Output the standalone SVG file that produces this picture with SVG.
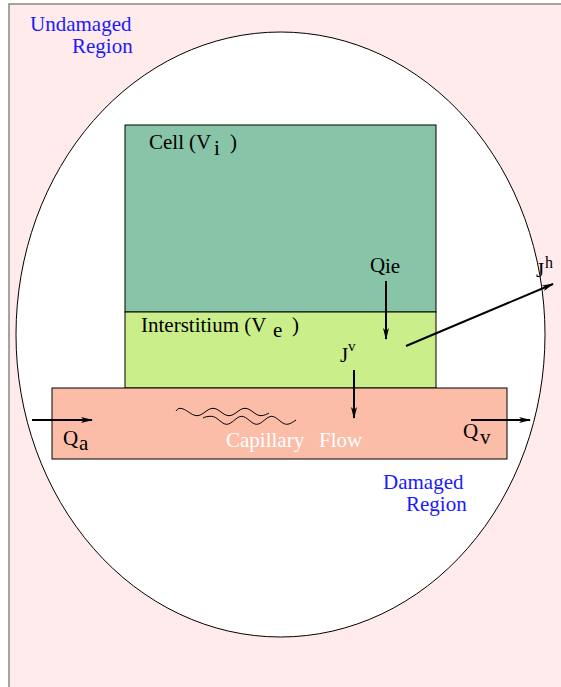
<svg xmlns="http://www.w3.org/2000/svg" width="561" height="687" viewBox="0 0 561 687">
<defs>
<marker id="ah" markerWidth="12" markerHeight="6" refX="11" refY="3" orient="auto" markerUnits="userSpaceOnUse">
<path d="M0,0 L12,3 L0,6 L3,3 Z" fill="#000"/>
</marker>
<style>
.t{font-family:"Liberation Serif","Times New Roman",serif;font-size:21px;fill:#000}
.b{fill:#1a1aff}
.w{fill:#fff}
.sup{font-size:16px}
.ar{stroke:#000;stroke-width:2;fill:none;marker-end:url(#ah)}
.box{stroke:#000;stroke-width:1}
.wave{fill:none;stroke:#000;stroke-width:1}
</style>
</defs>
<rect x="9" y="4" width="560" height="690" fill="#ffebeb" stroke="#888" stroke-width="1.5"/>
<ellipse id="region" cx="280.5" cy="334.5" rx="264.5" ry="302.5" fill="#fff" stroke="#000" stroke-width="1"/>
<g id="cell"><rect class="box" x="125" y="125" width="311" height="187" fill="#88c4a8"/>
<text class="t" font-size="20"><tspan x="149" y="149">Cell</tspan><tspan x="189" y="149">(V</tspan><tspan x="214" y="155">i</tspan><tspan x="230" y="149">)</tspan></text></g>
<g id="interstitium"><rect class="box" x="125" y="312" width="311" height="76" fill="#caef8a"/>
<text class="t"><tspan x="141" y="332">Interstitium (V</tspan><tspan x="273" y="337">e</tspan><tspan x="292" y="332">)</tspan></text></g>
<g id="capillary"><rect class="box" x="52" y="388" width="455" height="71" fill="#fbbca8"/>
<path class="wave" d="M176,411 C177,409.5 178.5,408.3 180,408.3 C186,408.3 191,415.7 197,415.7 S207,408.3 213,408.3 S223,415.7 229,415.7 S239,408.3 245,408.3 S255,415.7 261,415.7 C264,415.7 267,414 269,413"/>
<path class="wave" d="M203,418 C205,416.8 208,416.3 211.7,416.3 C217,416.3 221.5,424.3 226.7,424.3 S236.5,416.3 241.7,416.3 S251.5,424.3 256.7,424.3 S266.5,416.3 271.7,416.3 S281.5,424.3 286.7,424.3 C290,424.3 293,422 296,420"/>
<text class="t w" font-size="22"><tspan x="226" y="447">Capillary</tspan><tspan x="319" y="447">Flow</tspan></text></g>
<g id="labels">
<text class="t b" x="30" y="31">Undamaged</text>
<text class="t b" x="72" y="53">Region</text>
<text class="t b" x="383" y="489">Damaged</text>
<text class="t b" x="406" y="511">Region</text>
<text class="t"><tspan x="370" y="272">Q</tspan><tspan x="385" y="273">ie</tspan></text>
<text class="t"><tspan x="536" y="277">J</tspan><tspan class="sup" x="545" y="268">h</tspan></text>
<text class="t"><tspan x="340" y="362">J</tspan><tspan font-size="15" x="348" y="351">v</tspan></text>
<text class="t"><tspan x="63" y="445">Q</tspan><tspan x="79" y="450">a</tspan></text>
<text class="t"><tspan x="463" y="438">Q</tspan><tspan x="480" y="444">v</tspan></text>
</g>
<g id="connectors">
<line class="ar" x1="386" y1="281" x2="386" y2="339"/>
<line class="ar" x1="406" y1="346" x2="553" y2="284"/>
<line class="ar" x1="354" y1="370" x2="354" y2="418"/>
<line class="ar" x1="32" y1="420" x2="92" y2="420"/>
<line class="ar" x1="471" y1="420" x2="530" y2="420"/>
</g>
</svg>
